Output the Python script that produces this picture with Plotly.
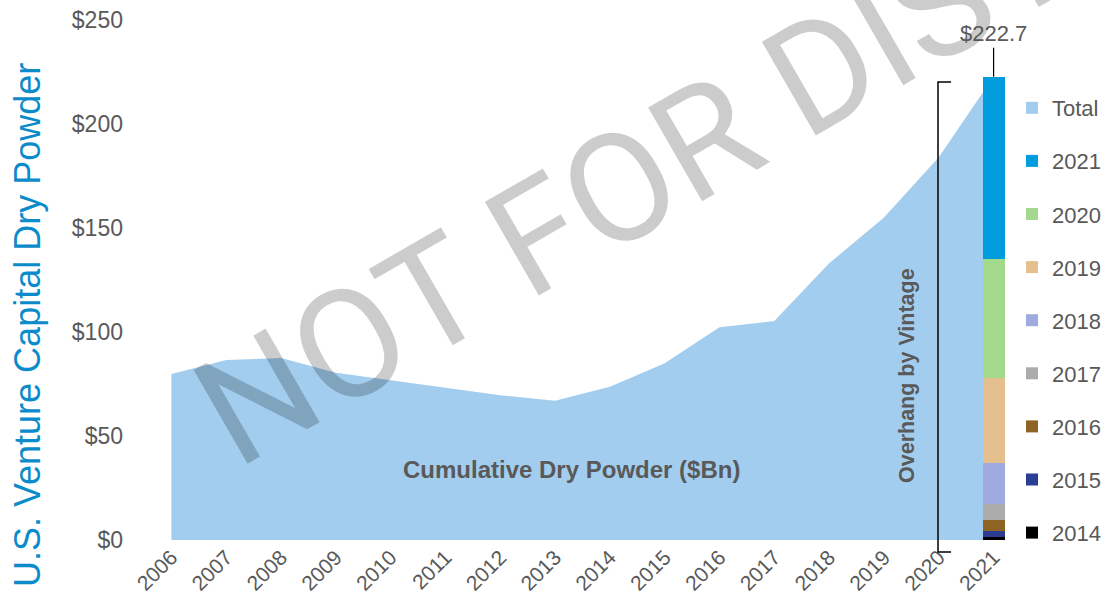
import plotly.graph_objects as go

# ---------------- data ----------------
years = list(range(2006, 2022))
total_dry_powder = [79.8, 86.5, 87.5, 80.4, 76.8, 73.2, 69.6, 67.0, 73.7, 85.0,
                    102.3, 105.3, 133.0, 155.0, 184.0, 222.7]
vintages = ["2014", "2015", "2016", "2017", "2018", "2019", "2020", "2021"]
vintage_values = [1.6, 2.7, 5.3, 7.9, 19.7, 40.8, 57.0, 87.7]
vintage_colors = ["#000000", "#2B3E93", "#8E6424", "#ABABAB", "#9FAAE0",
                  "#E5C08E", "#A2D98C", "#009CDE"]
area_color = "#A2CDEE"
y_ticks = [0, 50, 100, 150, 200, 250]

# ---------------- layout geometry (pixels) ----------------
W, H = 1109, 613
ML, MR, MT, MB = 144, 88, 20, 73
PW = W - ML - MR
PH = H - MT - MB


def px_x(px):
    return (px - ML) / PW


def px_y(py):
    return (H - MB - py) / PH


gray = "#595959"
font_main = "Liberation Sans"
x_range = [2005.5, 2021.5]
y_range = [0, 250]

fig = go.Figure()

# cumulative area (base axes)
fig.add_trace(go.Scatter(
    x=years, y=total_dry_powder, mode="none", fill="tozeroy",
    fillcolor=area_color, showlegend=False, hoverinfo="skip",
    xaxis="x", yaxis="y"))

# stacked vintage bar at last year (overlay axes so it sits above the area)
n = len(vintages)
for i, (name, val, col) in enumerate(zip(vintages, vintage_values, vintage_colors)):
    fig.add_trace(go.Bar(
        x=[years[-1]], y=[val], name=name, marker_color=col,
        marker_line_width=0, width=0.4, legendgroup=name,
        legendrank=n + 1 - i, xaxis="x2", yaxis="y2"))

# legend-only entry for the area
fig.add_trace(go.Bar(x=[None], y=[None], name="Total", marker_color=area_color,
                     marker_line_width=0, legendgroup="Total", legendrank=0,
                     xaxis="x2", yaxis="y2"))

annotations = []
# watermark
annotations.append(dict(
    text="NOT FOR DISTRIBUTION", xref="paper", yref="paper",
    x=px_x(926), y=px_y(12), xanchor="center", yanchor="middle",
    showarrow=False, textangle=-30,
    font=dict(family="Roboto", size=152, color="rgba(0,0,0,0.2)")))
# total label
annotations.append(dict(
    text="$" + f"{sum(vintage_values):.1f}", x=years[-1], y=sum(vintage_values),
    xref="x", yref="y", showarrow=True, arrowhead=0, arrowwidth=1.2,
    arrowcolor="#000000", ax=0, ay=-43, standoff=0,
    font=dict(family=font_main, size=22, color=gray)))
# area label
annotations.append(dict(
    text="<b>Cumulative Dry Powder ($Bn)</b>", xref="paper", yref="paper",
    x=px_x(571), y=px_y(469), xanchor="center", yanchor="middle",
    showarrow=False, font=dict(family=font_main, size=24, color=gray)))
# overhang label
annotations.append(dict(
    text="<b>Overhang by Vintage</b>", xref="paper", yref="paper",
    x=px_x(907), y=px_y(376), xanchor="center", yanchor="middle",
    showarrow=False, textangle=-90,
    font=dict(family=font_main, size=21.5, color=gray)))
# y axis title
annotations.append(dict(
    text="U.S. Venture Capital Dry Powder", xref="paper", yref="paper",
    x=px_x(27), y=px_y(325), xanchor="center", yanchor="middle",
    showarrow=False, textangle=-90,
    font=dict(family=font_main, size=36, color="#0C8BCB")))

shapes = [dict(
    type="path", xref="paper", yref="paper",
    path=(f"M {px_x(951)},{px_y(82)} L {px_x(938)},{px_y(82)} "
          f"L {px_x(938)},{px_y(552)} L {px_x(951)},{px_y(552)}"),
    line=dict(color="#000000", width=1.5))]

fig.update_layout(
    width=W, height=H,
    margin=dict(l=ML, r=MR, t=MT, b=MB, autoexpand=False),
    paper_bgcolor="white", plot_bgcolor="white",
    barmode="stack",
    showlegend=True,
    legend=dict(x=px_x(1012), y=px_y(87), xanchor="left", yanchor="top",
                traceorder="grouped", tracegroupgap=21.5,
                font=dict(family=font_main, size=22, color=gray),
                bgcolor="rgba(0,0,0,0)"),
    xaxis=dict(range=x_range, tickmode="array", tickvals=years,
               ticktext=[str(y) for y in years], tickangle=-45,
               showgrid=False, zeroline=False, showline=False, automargin=False,
               ticks="", tickfont=dict(family=font_main, size=21, color=gray)),
    yaxis=dict(range=y_range, tickmode="array", tickvals=y_ticks,
               ticktext=["$" + str(v) for v in y_ticks],
               showgrid=False, zeroline=False, showline=False, automargin=False,
               ticks="", ticklabelstandoff=20,
               tickfont=dict(family=font_main, size=23, color=gray)),
    xaxis2=dict(range=x_range, overlaying="x", visible=False, matches="x"),
    yaxis2=dict(range=y_range, overlaying="y", visible=False, matches="y"),
    annotations=annotations,
    shapes=shapes,
)

fig.write_html("out.html",
               config={"displayModeBar": False},
               post_script="document.body.style.margin='0';"
                           "document.body.style.overflow='hidden';")
